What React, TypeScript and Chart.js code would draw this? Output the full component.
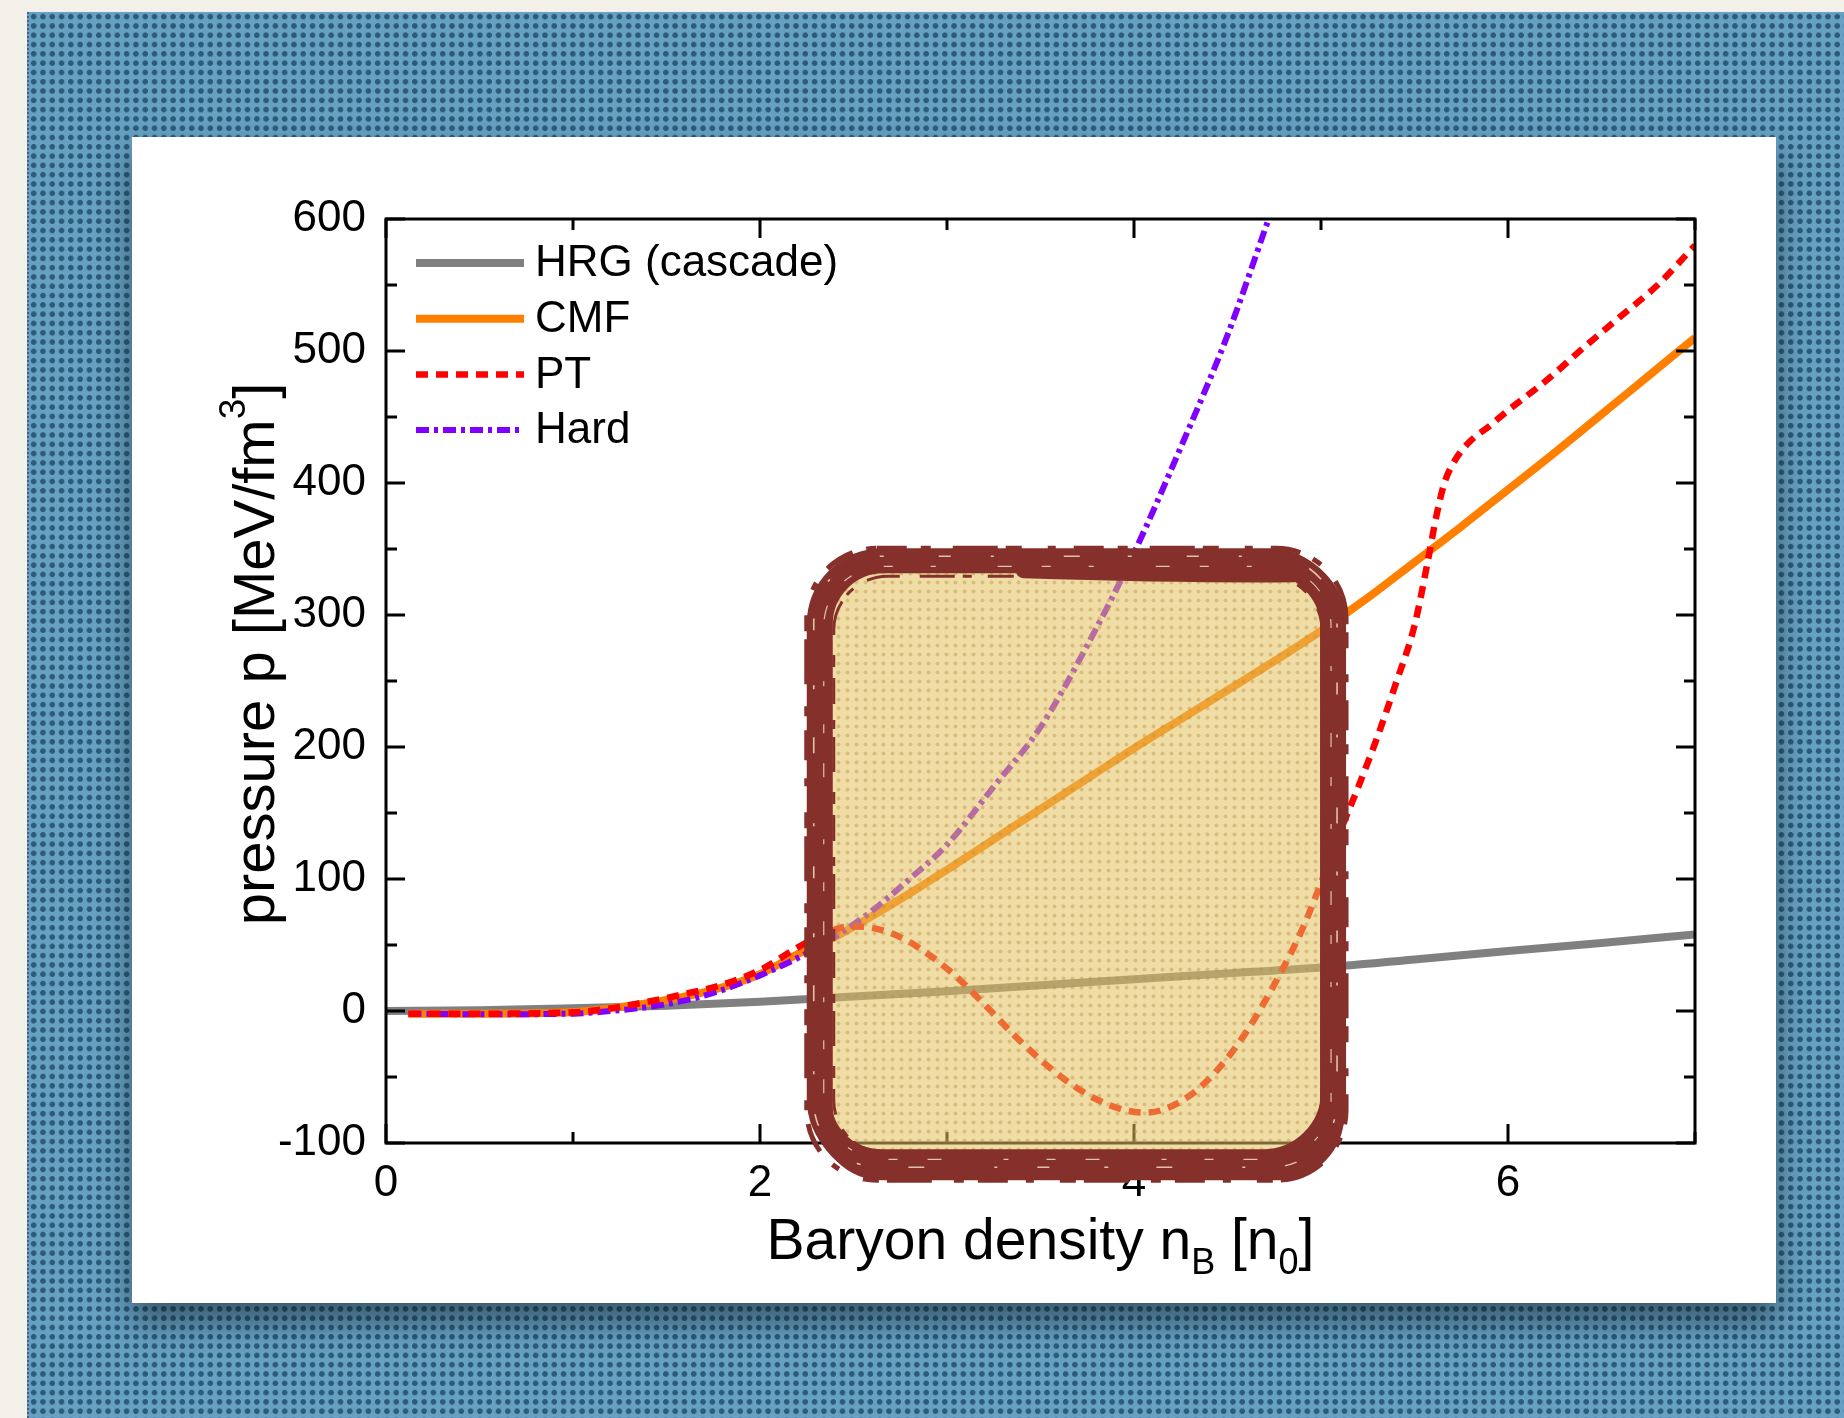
import React, { useEffect, useRef } from 'react';
import { Chart, registerables } from 'chart.js';

Chart.register(...registerables);

const FONT = "'Liberation Sans', Arial, Helvetica, sans-serif";

// Baryon density [n0] and pressure [MeV/fm^3] for each equation of state
const hrgDensity = [0, 0.5, 1, 1.5, 2, 2.5, 3, 3.5, 4, 4.5, 5, 5.5, 6, 6.5, 7];
const hrgPressure = [0, 0.6, 2, 4, 7, 11, 15, 19.5, 24, 28.5, 33, 39, 45.5, 51.5, 58];

const cmfDensity = [0.12, 0.5, 1.0, 1.2, 1.4, 1.6, 1.8, 2.0, 2.2, 2.4, 2.6, 2.8, 3.0, 3.25, 3.5, 3.75, 4.0, 4.25, 4.5, 4.75, 5.0, 5.25, 5.5, 5.75, 6.0, 6.25, 6.5, 6.75, 7.0];
const cmfPressure = [-2, -2, -1, 2, 6, 11, 18, 28, 43, 56, 72, 89, 107, 130, 153, 176, 199, 221, 243, 265, 288, 313, 340, 367, 395, 423, 452, 481, 510];

const ptDensity = [0.12, 0.5, 1.0, 1.2, 1.4, 1.6, 1.8, 2.0, 2.2, 2.35, 2.48, 2.6, 2.75, 2.9, 3.05, 3.2, 3.35, 3.5, 3.65, 3.8, 3.95, 4.05, 4.15, 4.3, 4.45, 4.6, 4.75, 4.9, 5.0, 5.1, 5.2, 5.3, 5.4, 5.5, 5.57, 5.62, 5.66, 5.72, 5.8, 5.9, 6.0, 6.2, 6.4, 6.6, 6.8, 7.0];
const ptPressure = [-2, -2, -1, 2, 7, 13, 20, 31, 48, 59, 64, 63, 56, 43, 26, 5, -17, -37, -54, -67, -75, -77, -75, -64, -44, -16, 20, 62, 97, 135, 170, 207, 248, 292, 340, 377, 400, 418, 432, 443, 455, 477, 502, 526, 550, 580];

const hardDensity = [0.12, 0.5, 1.0, 1.2, 1.4, 1.6, 1.8, 2.0, 2.2, 2.4, 2.6, 2.8, 3.0, 3.25, 3.5, 3.75, 4.0, 4.25, 4.5, 4.72];
const hardPressure = [-2, -2.5, -2, 0, 3, 8, 16, 27, 40, 56, 76, 100, 126, 170, 215, 277, 347, 427, 512, 600];

const seriesNames = ['HRG (cascade)', 'CMF', 'PT', 'Hard'];
const xLabeledTicks = [0, 2, 4, 6];

// region of the plot singled out by the brush-drawn frame (data units)
const highlight = { xFrom: 2.25, xTo: 5.15, yFrom: -129, yTo: 349 };

const toPoints = (xs: number[], ys: number[]) => xs.map((x, i) => ({ x, y: ys[i] }));

function roundRectPath(ctx: CanvasRenderingContext2D, x: number, y: number, w: number, h: number, r: number) {
  ctx.beginPath();
  ctx.moveTo(x + r, y);
  ctx.lineTo(x + w - r, y);
  ctx.arcTo(x + w, y, x + w, y + r, r);
  ctx.lineTo(x + w, y + h - r);
  ctx.arcTo(x + w, y + h, x + w - r, y + h, r);
  ctx.lineTo(x + r, y + h);
  ctx.arcTo(x, y + h, x, y + h - r, r);
  ctx.lineTo(x, y + r);
  ctx.arcTo(x, y, x + r, y, r);
  ctx.closePath();
}

type Part = { t: string; size: number; dy?: number };

function drawRich(ctx: CanvasRenderingContext2D, parts: Part[], cx: number, baseY: number) {
  let total = 0;
  const widths = parts.map((p) => {
    ctx.font = `${p.size}px ${FONT}`;
    const w = ctx.measureText(p.t).width;
    total += w;
    return w;
  });
  let x = cx - total / 2;
  ctx.textAlign = 'left';
  ctx.textBaseline = 'alphabetic';
  parts.forEach((p, i) => {
    ctx.font = `${p.size}px ${FONT}`;
    ctx.fillText(p.t, x, baseY + (p.dy || 0));
    x += widths[i];
  });
}

const framePlugin = {
  id: 'frameTicksTitles',
  afterDraw(chart: any) {
    const { ctx, chartArea: a, scales } = chart;
    const xs = scales.x;
    const ys = scales.y;
    ctx.save();
    ctx.strokeStyle = '#000';
    ctx.lineWidth = 3;
    ctx.lineCap = 'butt';
    ctx.strokeRect(a.left, a.top, a.right - a.left, a.bottom - a.top);
    const MAJ = 19;
    const MIN = 11;
    ctx.beginPath();
    for (let v = xs.min; v <= xs.max + 1e-9; v += 1) {
      const px = xs.getPixelForValue(v);
      const len = xLabeledTicks.includes(v) ? MAJ : MIN;
      ctx.moveTo(px, a.bottom);
      ctx.lineTo(px, a.bottom - len);
      ctx.moveTo(px, a.top);
      ctx.lineTo(px, a.top + len);
    }
    for (let v = ys.min; v <= ys.max + 1e-9; v += 50) {
      const py = ys.getPixelForValue(v);
      const len = Math.abs(v % 100) < 1e-9 ? MAJ : MIN;
      ctx.moveTo(a.left, py);
      ctx.lineTo(a.left + len, py);
      ctx.moveTo(a.right, py);
      ctx.lineTo(a.right - len, py);
    }
    ctx.stroke();

    // axis titles
    ctx.fillStyle = '#000';
    drawRich(
      ctx,
      [
        { t: 'Baryon density n', size: 57 },
        { t: 'B', size: 36, dy: 15 },
        { t: ' [n', size: 57 },
        { t: '0', size: 36, dy: 15 },
        { t: ']', size: 57 },
      ],
      (a.left + a.right) / 2,
      a.bottom + 116
    );
    ctx.save();
    ctx.translate(142, 517);
    ctx.rotate(-Math.PI / 2);
    drawRich(
      ctx,
      [
        { t: 'pressure p [MeV/fm', size: 58 },
        { t: '3', size: 37, dy: -29 },
        { t: ']', size: 58 },
      ],
      0,
      0
    );
    ctx.restore();

    // legend
    const x0 = a.left + 30;
    const x1 = a.left + 138;
    chart.data.datasets.forEach((ds: any, i: number) => {
      const y = a.top + 44 + i * 55.7;
      ctx.save();
      ctx.strokeStyle = ds.borderColor;
      ctx.lineWidth = ds.borderWidth;
      ctx.setLineDash(ds.borderDash || []);
      ctx.beginPath();
      ctx.moveTo(x0, y);
      ctx.lineTo(x1, y);
      ctx.stroke();
      ctx.restore();
      ctx.fillStyle = '#000';
      ctx.font = `44px ${FONT}`;
      ctx.textAlign = 'left';
      ctx.textBaseline = 'middle';
      ctx.fillText(ds.label, a.left + 149, y + 1);
    });
    ctx.restore();
  },
};

const highlightPlugin = {
  id: 'brushFrame',
  afterDraw(chart: any) {
    const { ctx, scales } = chart;
    const L = scales.x.getPixelForValue(highlight.xFrom);
    const R = scales.x.getPixelForValue(highlight.xTo);
    const T = scales.y.getPixelForValue(highlight.yTo);
    const B = scales.y.getPixelForValue(highlight.yFrom);
    const W = R - L;
    const H = B - T;
    const rect = (l: number, t: number, r: number, b: number, rad: number) =>
      roundRectPath(ctx, L + l, T + t, W - l - r, H - t - b, rad);
    ctx.save();

    // translucent tinted fill with a fine dot screen
    rect(12, 12, 12, 12, 58);
    ctx.fillStyle = 'rgba(228,191,91,0.55)';
    ctx.fill();
    const tile = document.createElement('canvas');
    tile.width = 9;
    tile.height = 9;
    const tctx = tile.getContext('2d')!;
    tctx.fillStyle = 'rgba(185,145,70,0.42)';
    tctx.beginPath();
    tctx.arc(4.5, 4.5, 2, 0, Math.PI * 2);
    tctx.fill();
    const pat = ctx.createPattern(tile, 'repeat');
    if (pat) {
      ctx.fillStyle = pat;
      ctx.fill();
    }

    // brush stroke border: overlapping passes of slightly different shape
    const ink = '#85302b';
    ctx.strokeStyle = ink;
    ctx.lineJoin = 'round';
    const passes: number[][] = [
      [12, 10, 17, 19, 64, 24],
      [15, 12, 14, 14, 62, 22],
      [10, 14, 20, 24, 66, 16],
      [18, 14, 12, 8, 58, 14],
    ];
    passes.forEach(([l, t, r, b, rad, w]) => {
      ctx.lineWidth = w;
      rect(l, t, r, b, rad);
      ctx.stroke();
    });

    // heavier sweep along the top right
    ctx.lineCap = 'round';
    ctx.lineWidth = 16;
    ctx.beginPath();
    ctx.moveTo(L + W * 0.4, T + 20);
    ctx.quadraticCurveTo(L + W * 0.7, T + 25, R - 55, T + 24);
    ctx.stroke();
    ctx.lineCap = 'butt';

    // ragged fringes straddling the outer and inner edges of the stroke
    ctx.lineWidth = 5;
    ctx.setLineDash([30, 14, 10, 22, 45, 8, 16, 26, 8, 18]);
    rect(0, -2, 3, 1, 70);
    ctx.stroke();
    ctx.lineWidth = 3;
    ctx.setLineDash([12, 20, 35, 8, 9, 16, 26, 11]);
    rect(27, 26, 27, 27, 54);
    ctx.stroke();

    // pale streaks where the brush ran dry
    ctx.strokeStyle = 'rgba(245,232,200,0.8)';
    ctx.lineWidth = 1.6;
    ctx.setLineDash([4, 55, 12, 40, 3, 70, 16, 48]);
    rect(7, 6, 12, 14, 66);
    ctx.stroke();
    ctx.lineWidth = 1.2;
    ctx.setLineDash([9, 38, 5, 62, 14, 30]);
    rect(17, 16, 18, 22, 60);
    ctx.stroke();
    ctx.restore();
  },
};

export default function App() {
  const canvasRef = useRef<HTMLCanvasElement | null>(null);

  useEffect(() => {
    const canvas = canvasRef.current;
    if (!canvas) return;
    const chart = new Chart(canvas, {
      type: 'line',
      data: {
        datasets: [
          {
            label: seriesNames[0],
            data: toPoints(hrgDensity, hrgPressure),
            borderColor: '#808080',
            borderWidth: 8,
            order: 4,
          },
          {
            label: seriesNames[1],
            data: toPoints(cmfDensity, cmfPressure),
            borderColor: '#ff7f00',
            borderWidth: 8,
            order: 3,
          },
          {
            label: seriesNames[2],
            data: toPoints(ptDensity, ptPressure),
            borderColor: '#ff0000',
            borderWidth: 6.5,
            borderDash: [12, 8],
            order: 1,
          },
          {
            label: seriesNames[3],
            data: toPoints(hardDensity, hardPressure),
            borderColor: '#8000ff',
            borderWidth: 6,
            borderDash: [13, 5, 4, 5],
            order: 2,
          },
        ] as any,
      },
      options: {
        animation: false,
        responsive: false,
        devicePixelRatio: 1,
        layout: { padding: { left: 0, top: 82, right: 81, bottom: 0 } },
        elements: {
          point: { radius: 0, hoverRadius: 0 },
          line: { cubicInterpolationMode: 'monotone', borderCapStyle: 'butt', fill: false },
        },
        plugins: {
          legend: { display: false },
          tooltip: { enabled: false },
        },
        events: [],
        scales: {
          x: {
            type: 'linear',
            min: 0,
            max: 7,
            afterFit: (s: any) => {
              s.height = 160;
            },
            grid: { display: false, drawTicks: false },
            border: { display: false },
            ticks: {
              stepSize: 1,
              autoSkip: false,
              maxRotation: 0,
              padding: 14,
              color: '#000',
              font: { family: FONT, size: 44 },
              callback: (v: any) => (xLabeledTicks.includes(Number(v)) ? String(v) : ''),
            },
          },
          y: {
            type: 'linear',
            min: -100,
            max: 600,
            afterFit: (s: any) => {
              s.width = 254;
            },
            grid: { display: false, drawTicks: false },
            border: { display: false },
            ticks: {
              stepSize: 100,
              padding: 20,
              color: '#000',
              font: { family: FONT, size: 44 },
              callback: (v: any) => String(v),
            },
          },
        },
      } as any,
      plugins: [framePlugin, highlightPlugin],
    });
    return () => chart.destroy();
  }, []);

  return (
    <div
      style={{
        position: 'fixed',
        left: 0,
        top: 0,
        width: 1844,
        height: 1418,
        background: '#f3f0ea',
        overflow: 'hidden',
      }}
    >
      <div
        style={{
          position: 'absolute',
          left: 27,
          top: 12,
          right: 0,
          bottom: 0,
          backgroundColor: '#66a0c2',
          backgroundImage: 'radial-gradient(circle at center, #2c5b7a 0, #2c5b7a 2.4px, rgba(44,91,122,0) 3.2px)',
          backgroundSize: '9.3px 9.3px',
          borderLeft: '2px dotted rgba(40,48,56,0.55)',
        }}
      />
      <div
        style={{
          position: 'absolute',
          left: 132,
          top: 137,
          width: 1644,
          height: 1166,
          background: '#ffffff',
          boxShadow: '0 18px 30px rgba(0,0,0,0.45)',
        }}
      >
        <canvas ref={canvasRef} width={1644} height={1166} style={{ display: 'block' }} />
      </div>
    </div>
  );
}
